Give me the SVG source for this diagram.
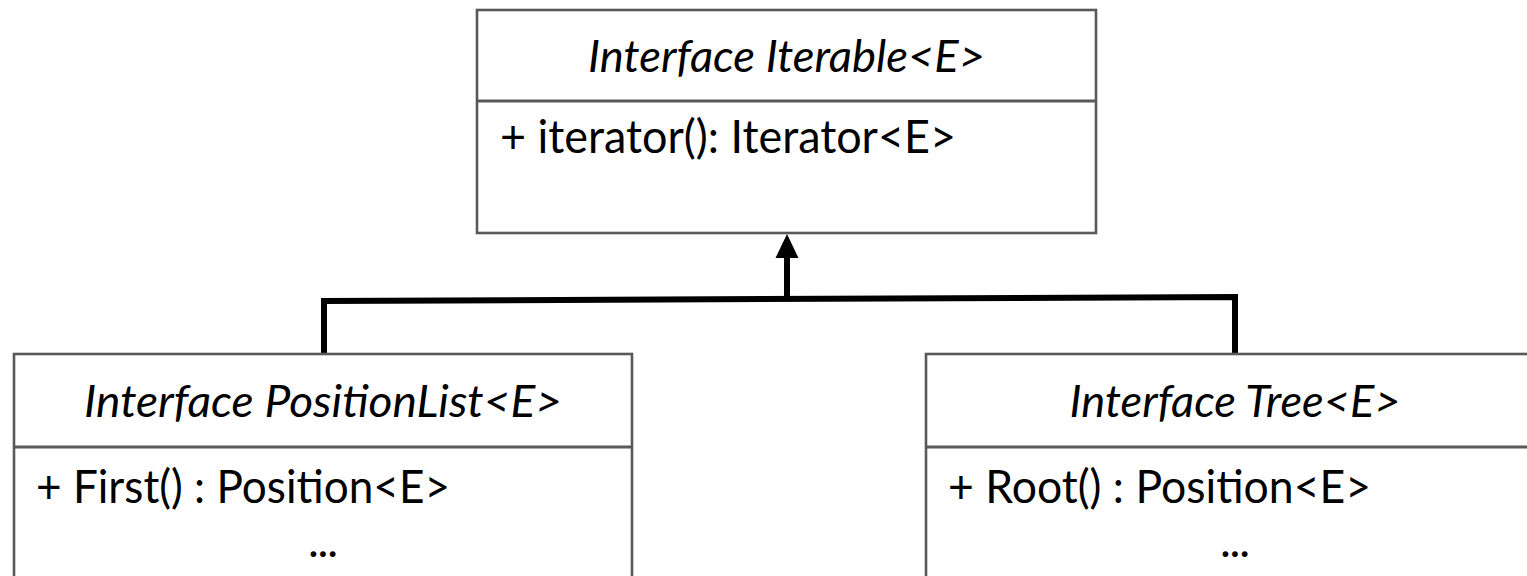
<svg xmlns="http://www.w3.org/2000/svg" width="1527" height="576" viewBox="0 0 1527 576">
<style>
.box{fill:#ffffff;stroke:#595959;stroke-width:2.6}
.div{stroke:#595959;stroke-width:2.8}
.title{font-family:Lato,"Open Sans","Liberation Sans",sans-serif;font-style:italic;font-size:44px;fill:#000;text-anchor:middle}
.mem{font-family:Lato,"Open Sans","Liberation Sans",sans-serif;font-size:46px;fill:#000}
.dots{font-family:Lato,"Open Sans","Liberation Sans",sans-serif;font-size:46px;fill:#000;text-anchor:middle}
.conn{fill:none;stroke:#000;stroke-width:6}
</style>
<rect width="1527" height="576" fill="#ffffff"/>
<g id="connectors">
<path class="conn" d="M787,257 V299"/>
<path class="conn" d="M324,354 V301 L1235,297 V354"/>
<polygon points="787,234 775.5,258 798.5,258" fill="#000"/>
</g>
<g id="iterable">
<rect class="box" x="477" y="10" width="619" height="223"/>
<line class="div" x1="477" y1="101" x2="1096" y2="101"/>
<text class="title" x="786.5" y="72" textLength="397" lengthAdjust="spacingAndGlyphs">Interface Iterable&lt;E&gt;</text>
<text class="mem" x="500" y="153" textLength="456" lengthAdjust="spacingAndGlyphs">+ iterator(): Iterator&lt;E&gt;</text>
</g>
<g id="positionlist">
<rect class="box" x="14" y="354" width="618" height="250"/>
<line class="div" x1="14" y1="447" x2="632" y2="447"/>
<text class="title" x="323" y="417" textLength="478" lengthAdjust="spacingAndGlyphs">Interface PositionList&lt;E&gt;</text>
<text class="mem" x="36" y="503" textLength="414" lengthAdjust="spacingAndGlyphs">+ First() : Position&lt;E&gt;</text>
<text class="dots" x="323" y="557" textLength="30" lengthAdjust="spacing">...</text>
</g>
<g id="tree">
<rect class="box" x="926" y="354" width="640" height="250"/>
<line class="div" x1="926" y1="447" x2="1566" y2="447"/>
<text class="title" x="1235" y="417" textLength="331" lengthAdjust="spacingAndGlyphs">Interface Tree&lt;E&gt;</text>
<text class="mem" x="948" y="503" textLength="423" lengthAdjust="spacingAndGlyphs">+ Root() : Position&lt;E&gt;</text>
<text class="dots" x="1235" y="557" textLength="30" lengthAdjust="spacing">...</text>
</g>
</svg>
